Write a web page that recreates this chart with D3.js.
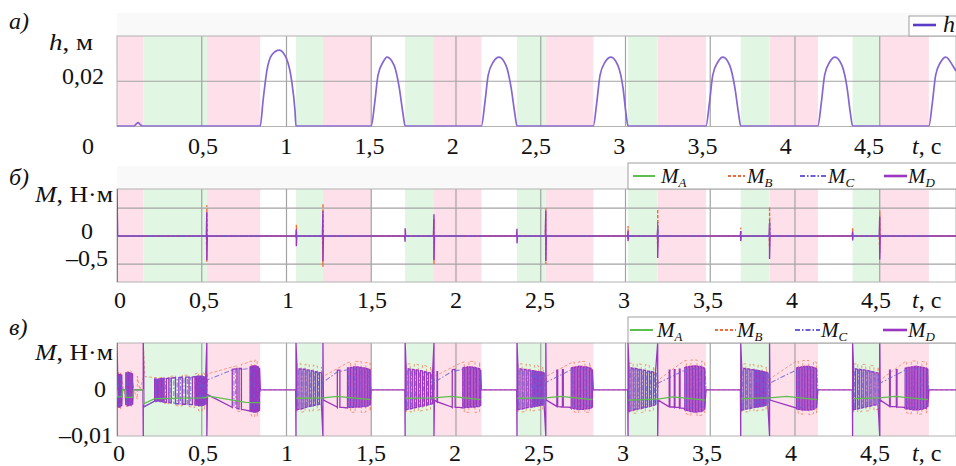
<!DOCTYPE html>
<html>
<head>
<meta charset="utf-8">
<script src="https://cdn.jsdelivr.net/npm/d3@7"></script>
<style>
  body { margin: 0; background: #fff; }
  svg text { font-family: "Liberation Serif", "Times New Roman", serif; fill: #111; }
</style>
</head>
<body>
<div id="chart"></div>
<script>
// phase bands (time, s)
const pinkPhases = [[0, 0.155], [0.53, 0.845], [1.215, 1.50], [1.87, 2.15], [2.53, 2.81], [3.19, 3.475], [3.85, 4.135], [4.50, 4.79]];
const greenPhases = [[0.155, 0.53], [1.056, 1.215], [1.70, 1.87], [2.36, 2.53], [3.015, 3.19], [3.68, 3.85], [4.34, 4.50]];

const gridTimes = [0.5, 1, 1.5, 2, 2.5, 3, 3.5, 4, 4.5];
const tickTimes = [0, 0.5, 1, 1.5, 2, 2.5, 3, 3.5, 4, 4.5];
const tickLabels = ["0", "0,5", "1", "1,5", "2", "2,5", "3", "3,5", "4", "4,5"];

// a) h, m
const hPoints = [
  [0, 0.0002], [0.10, 0.0002], [0.112, 0.0010], [0.125, 0.0017], [0.137, 0.0009], [0.15, 0.0002],
  [0.845, 0.0002], [0.862, 0.0116], [0.885, 0.025], [0.913, 0.0316], [0.957, 0.0338], [1.0, 0.030], [1.03, 0.0204], [1.05, 0.0071], [1.056, 0.0002],
  [1.50, 0.0002], [1.52, 0.0102], [1.54, 0.0227], [1.57, 0.0285], [1.593, 0.0307], [1.635, 0.027], [1.665, 0.0173], [1.687, 0.0058], [1.70, 0.0002],
  [2.15, 0.0002], [2.17, 0.0102], [2.19, 0.0227], [2.22, 0.0285], [2.254, 0.0307], [2.295, 0.027], [2.325, 0.0173], [2.347, 0.0058], [2.36, 0.0002],
  [2.81, 0.0002], [2.83, 0.0102], [2.85, 0.0227], [2.88, 0.0285], [2.914, 0.0307], [2.955, 0.027], [2.985, 0.0173], [3.003, 0.0058], [3.015, 0.0002],
  [3.475, 0.0002], [3.495, 0.0102], [3.515, 0.0227], [3.545, 0.0285], [3.575, 0.0307], [3.615, 0.027], [3.645, 0.0173], [3.667, 0.0058], [3.68, 0.0002],
  [4.135, 0.0002], [4.155, 0.0102], [4.175, 0.0227], [4.205, 0.0285], [4.236, 0.0307], [4.277, 0.027], [4.307, 0.0173], [4.327, 0.0058], [4.34, 0.0002],
  [4.79, 0.0002], [4.81, 0.0102], [4.83, 0.0227], [4.86, 0.0285], [4.89, 0.0307], [4.93, 0.027], [4.95, 0.0245]
];

// б) moments, N·m   ([t, v] point or [t, hi, lo] stick, null = gap)
const bMA = [[0, 0], [4.95, 0]];
const bMB = [[0, 0], [0.527, 0], [0.53, 0.55, -0.46], [0.533, 0], [1.055, 0], [1.058, 0.2, -0.05], [1.061, 0],
  [1.212, 0], [1.215, 0.58, -0.55], [1.218, 0], [1.867, 0], [1.87, 0.3, -0.5], [1.873, 0], [2.527, 0], [2.53, 0.5, -0.5], [2.533, 0],
  [3.012, 0], [3.015, 0.18, -0.05], [3.018, 0], [3.187, 0], [3.19, 0.48, -0.2], [3.193, 0], [3.677, 0], [3.68, 0.15, 0], [3.683, 0],
  [3.847, 0], [3.85, 0.52, -0.2], [3.853, 0], [4.337, 0], [4.34, 0.15, 0], [4.343, 0], [4.497, 0], [4.5, 0.45, -0.3], [4.503, 0], [4.95, 0]];
const bMC = [[0, 0], [0.845, 0], null, [1.056, 0], [1.50, 0], null, [1.70, 0], [2.15, 0], null, [2.36, 0], [2.81, 0], null,
  [3.015, 0], [3.187, 0], [3.19, 0.25, -0.05], [3.193, 0], [3.475, 0], null, [3.68, 0], [3.847, 0], [3.85, 0.3, -0.05], [3.853, 0], [4.135, 0], null,
  [4.34, 0], [4.79, 0]];
const bMD = [[0, 0.84, -0.82], [0.004, 0], [0.527, 0], [0.530, 0.43, -0.43], [0.533, 0],
  [1.055, 0], [1.058, 0.12, -0.18], [1.061, 0], [1.212, 0], [1.215, 0.45, -0.45], [1.218, 0],
  [1.697, 0], [1.700, 0.14, -0.10], [1.703, 0], [1.867, 0], [1.870, 0.39, -0.43], [1.873, 0],
  [2.357, 0], [2.360, 0.13, -0.13], [2.363, 0], [2.527, 0], [2.530, 0.45, -0.45], [2.533, 0],
  [3.012, 0], [3.015, 0.09, -0.09], [3.018, 0], [3.187, 0], [3.190, 0.14, -0.39], [3.193, 0],
  [3.677, 0], [3.680, 0.09, -0.09], [3.683, 0], [3.847, 0], [3.850, 0.23, -0.41], [3.853, 0],
  [4.337, 0], [4.340, 0.08, -0.08], [4.343, 0], [4.497, 0], [4.500, 0.35, -0.42], [4.503, 0], [4.95, 0]];

// в) moments, N·m
const vMA = [[0, 0], [0.002, -0.0015], [0.03, -0.0015], [0.032, 0], [0.05, 0], [0.052, -0.0016], [0.095, -0.0016], [0.097, 0], [0.155, 0],
  [0.158, -0.003], [0.222, -0.0019], [0.50, -0.0017], [0.53, -0.0016], [0.534, -0.0013], [0.76, -0.0027], [0.845, -0.0028], null,
  [1.058, -0.0018], [1.215, -0.0017], [1.30, -0.0014], [1.495, -0.0021], null,
  [1.702, -0.0018], [1.87, -0.0017], [1.97, -0.0014], [2.145, -0.0021], null,
  [2.362, -0.0018], [2.53, -0.0017], [2.62, -0.0014], [2.805, -0.0021], null,
  [3.017, -0.0022], [3.19, -0.0020], [3.28, -0.0015], [3.47, -0.0022], null,
  [3.682, -0.0019], [3.85, -0.0017], [3.95, -0.0014], [4.13, -0.0021], null,
  [4.342, -0.0019], [4.50, -0.0017], [4.59, -0.0014], [4.785, -0.0021]];

const vMB = [[0, 0], [0.010, 0.0038, -0.004], [0.022, 0.0037, -0.0041], [0.04, 0], [0.060, 0.004, -0.0037], [0.084, 0.0041, -0.0036], [0.10, 0],
  [0.12, 0.003, -0.002], [0.135, 0], [0.155, 0.0102, 0.0028], [0.165, 0.0029], [0.25, 0.0026],
  [0.278, 0.0028, -0.0029], [0.306, 0.0029, -0.003], [0.345, 0.0031, -0.0034], [0.385, 0.0032, -0.0035], [0.425, 0.0032, -0.0036], [0.460, 0.0035, -0.0038],
  [0.481, 0.0037, -0.0045], [0.502, 0.0038, -0.0046], [0.516, 0.0036, -0.0042], [0.53, 0], [0.535, 0.0035], [0.70, 0.0052],
  [0.708, 0.0054, -0.0046], [0.734, 0.0056, -0.0047], [0.76, 0.0058], [0.792, 0.0063, -0.0056], [0.813, 0.0065, -0.0058], [0.827, 0.0064, -0.0057], [0.845, 0], [1.056, 0],
  [1.062, 0.0056, -0.0048], [1.086, 0.0057, -0.0048], [1.110, 0.0056, -0.0047], [1.134, 0.0055, -0.0046], [1.158, 0.0054, -0.0045], [1.182, 0.0052, -0.0044], [1.206, 0.0050, -0.0042],
  [1.215, 0], [1.22, 0.0030], [1.36, 0.0059], [1.378, 0.0061, -0.0048], [1.405, 0.0062, -0.0049], [1.441, 0.0062, -0.0049], [1.468, 0.006, -0.0048], [1.494, 0.0058, -0.0046], [1.50, 0], [1.70, 0],
  [1.706, 0.0056, -0.0048], [1.730, 0.0057, -0.0048], [1.754, 0.0056, -0.0047], [1.778, 0.0055, -0.0046], [1.802, 0.0054, -0.0045], [1.826, 0.0052, -0.0044], [1.850, 0.0050, -0.0042],
  [1.87, 0], [1.875, 0.0030], [2.03, 0.0059], [2.049, 0.0061, -0.0048], [2.076, 0.0062, -0.0049], [2.112, 0.0062, -0.0049], [2.139, 0.006, -0.0047], [2.15, 0], [2.36, 0],
  [2.366, 0.0056, -0.0048], [2.390, 0.0057, -0.0048], [2.414, 0.0056, -0.0047], [2.438, 0.0055, -0.0046], [2.464, 0.0054, -0.0045], [2.488, 0.0052, -0.0044], [2.512, 0.0050, -0.0042],
  [2.53, 0], [2.535, 0.003], [2.68, 0.0059], [2.698, 0.0061, -0.0048], [2.725, 0.0062, -0.0049], [2.761, 0.0062, -0.0049], [2.788, 0.006, -0.0048], [2.81, 0], [3.015, 0],
  [3.021, 0.0058, -0.0052], [3.045, 0.0058, -0.0051], [3.069, 0.0057, -0.005], [3.093, 0.0056, -0.0049], [3.117, 0.0055, -0.0047], [3.141, 0.0053, -0.0046], [3.165, 0.0051, -0.0044],
  [3.19, 0], [3.195, 0.0022], [3.345, 0.0063], [3.359, 0.0064, -0.0052], [3.386, 0.0065, -0.0055], [3.422, 0.0065, -0.0056], [3.449, 0.0063, -0.0055], [3.467, 0.006, -0.005], [3.475, 0], [3.68, 0],
  [3.686, 0.0056, -0.0048], [3.710, 0.0057, -0.0048], [3.734, 0.0056, -0.0047], [3.758, 0.0055, -0.0046], [3.782, 0.0054, -0.0045], [3.806, 0.0052, -0.0044], [3.830, 0.0050, -0.0042],
  [3.85, 0], [3.855, 0.0025], [4.005, 0.0062], [4.019, 0.0063, -0.005], [4.046, 0.0064, -0.0053], [4.082, 0.0064, -0.0054], [4.109, 0.0062, -0.0052], [4.127, 0.006, -0.005], [4.135, 0], [4.34, 0],
  [4.346, 0.0056, -0.0048], [4.370, 0.0057, -0.0048], [4.394, 0.0056, -0.0047], [4.418, 0.0055, -0.0046], [4.442, 0.0054, -0.0045], [4.466, 0.0052, -0.0044], [4.490, 0.0050, -0.0042],
  [4.50, 0], [4.505, 0.0022], [4.645, 0.006], [4.659, 0.0062, -0.005], [4.686, 0.0063, -0.0052], [4.722, 0.0063, -0.0053], [4.749, 0.0062, -0.0052], [4.776, 0.006, -0.005], [4.79, 0], [4.95, 0]];

const vMC = [[0, 0], [0.007, 0.003, -0.0032], [0.019, 0.003, -0.0033], [0.031, 0], null, [0.05, 0], [0.055, 0.0033, -0.003], [0.071, 0.0034, -0.003], [0.087, 0.0033, -0.003], [0.099, 0], null,
  [0.158, -0.0037], [0.222, -0.0024], [0.234, 0.0023, -0.0024], [0.25, 0.0023, -0.0024], [0.266, 0.0024, -0.0025], [0.285, 0.0024, -0.0026], [0.313, 0.0025, -0.0027],
  [0.335, 0.0026, -0.0029], [0.355, 0.0026, -0.0029], [0.375, 0.0027, -0.003], [0.395, 0.0027, -0.003], [0.415, 0.0027, -0.0031], [0.435, 0.0027, -0.0031],
  [0.463, 0.0028, -0.0032], [0.478, 0.0029, -0.0032], [0.491, 0.0029, -0.0033], [0.505, 0.0029, -0.0033], [0.519, 0.0027, -0.0031], [0.53, 0],
  [0.534, 0.0022], [0.676, 0.0043], [0.69, 0.0044, -0.0038], [0.70, 0.0044, -0.0038], [0.745, 0.0045], [0.79, 0.0047, -0.004], [0.81, 0.0048, -0.0042], [0.83, 0.0047, -0.0041], [0.846, 0], null,
  [1.056, 0], [1.068, 0.0044, -0.0041], [1.092, 0.0043, -0.004], [1.116, 0.0042, -0.0038], [1.14, 0.0041, -0.0036], [1.164, 0.0039, -0.0034], [1.188, 0.0037, -0.0032], [1.208, 0.0035, -0.003],
  [1.215, 0], [1.218, 0.0017], [1.298, 0.0039], [1.36, 0.0044], [1.365, 0.0045, -0.0036], [1.40, 0.0046, -0.0036], [1.44, 0.0046, -0.0035], [1.48, 0.0044, -0.0034], [1.50, 0], null,
  [1.70, 0], [1.712, 0.0044, -0.0041], [1.736, 0.0043, -0.004], [1.76, 0.0042, -0.0038], [1.784, 0.0041, -0.0036], [1.808, 0.0039, -0.0034], [1.832, 0.0037, -0.0032], [1.856, 0.0035, -0.003],
  [1.87, 0], [1.873, 0.0017], [1.975, 0.0040], [2.035, 0.0044], [2.045, 0.0045, -0.0036], [2.08, 0.0046, -0.0036], [2.115, 0.0045, -0.0035], [2.14, 0.0043, -0.0034], [2.15, 0], null,
  [2.36, 0], [2.372, 0.0044, -0.0041], [2.396, 0.0043, -0.004], [2.42, 0.0042, -0.0038], [2.444, 0.0041, -0.0037], [2.452, 0.004, -0.0036], [2.46, 0.004, -0.0036], [2.468, 0.0039, -0.0035],
  [2.476, 0.0039, -0.0035], [2.484, 0.0038, -0.0034], [2.492, 0.0038, -0.0034], [2.50, 0.0037, -0.0033], [2.508, 0.0037, -0.0033], [2.516, 0.0036, -0.0032], [2.524, 0.0035, -0.0031],
  [2.53, 0], [2.533, 0.0017], [2.675, 0.0043], [2.69, 0.0045, -0.0036], [2.73, 0.0046, -0.0036], [2.77, 0.0045, -0.0035], [2.80, 0.0043, -0.0034], [2.81, 0], null,
  [3.015, 0], [3.027, 0.0046, -0.0044], [3.051, 0.0045, -0.0042], [3.075, 0.0044, -0.004], [3.099, 0.0043, -0.0038], [3.123, 0.0041, -0.0036], [3.147, 0.0039, -0.0034], [3.171, 0.0037, -0.0032], [3.185, 0.0036, -0.0031],
  [3.19, 0], [3.193, 0.0015], [3.345, 0.0042], [3.36, 0.0045, -0.0038], [3.40, 0.0046, -0.0039], [3.44, 0.0046, -0.0038], [3.47, 0.0044, -0.0036], [3.475, 0], null,
  [3.68, 0], [3.692, 0.0045, -0.0042], [3.716, 0.0044, -0.004], [3.74, 0.0043, -0.0039], [3.762, 0.0042, -0.0037], [3.77, 0.0041, -0.0037], [3.778, 0.0041, -0.0036], [3.786, 0.004, -0.0036],
  [3.794, 0.004, -0.0035], [3.802, 0.0039, -0.0035], [3.81, 0.0039, -0.0034], [3.818, 0.0038, -0.0034], [3.826, 0.0037, -0.0033], [3.834, 0.0036, -0.0032], [3.845, 0.0035, -0.0031],
  [3.85, 0], [3.853, 0.0015], [4.005, 0.0043], [4.02, 0.0045, -0.0038], [4.06, 0.0046, -0.0039], [4.10, 0.0046, -0.0038], [4.13, 0.0044, -0.0036], [4.135, 0], null,
  [4.34, 0], [4.352, 0.0045, -0.0042], [4.376, 0.0044, -0.004], [4.40, 0.0043, -0.0038], [4.424, 0.0041, -0.0036], [4.448, 0.004, -0.0035], [4.472, 0.0038, -0.0033], [4.492, 0.0036, -0.0031],
  [4.50, 0], [4.503, 0.0015], [4.645, 0.0042], [4.66, 0.0045, -0.0038], [4.70, 0.0046, -0.0039], [4.74, 0.0046, -0.0038], [4.78, 0.0044, -0.0036], [4.79, 0]];

const vMD = [[0, 0.0102, -0.01],
  [0.004, 0.0033, -0.0036], [0.010, 0.0034, -0.0037], [0.016, 0.0033, -0.0037], [0.022, 0.0033, -0.0036], [0.028, 0.0032, -0.0035], [0.032, 0], [0.048, 0],
  [0.052, 0.0037, -0.0033], [0.060, 0.0037, -0.0034], [0.068, 0.0038, -0.0034], [0.076, 0.0037, -0.0033], [0.084, 0.0036, -0.0033], [0.092, 0.0035, -0.0032], [0.097, 0], [0.153, 0],
  [0.155, 0.0102, -0.01], [0.158, 0.0037, -0.0037], [0.222, 0.0024, -0.0024],
  [0.230, 0.0024, -0.0025], [0.238, 0.0023, -0.0024], [0.246, 0.0024, -0.0024], [0.254, 0.0024, -0.0025], [0.262, 0.0025, -0.0025], [0.270, 0.0025, -0.0026], [0.278, 0.0025, -0.0026],
  [0.292, 0.0025, -0.0027], [0.306, 0.0026, -0.0027], [0.320, 0.0026, -0.0028], [0.345, 0.0027, -0.0030], [0.365, 0.0027, -0.0030], [0.385, 0.0028, -0.0031], [0.405, 0.0028, -0.0031],
  [0.425, 0.0028, -0.0032], [0.445, 0.0028, -0.0032], [0.460, 0.0029, -0.0033], [0.467, 0.0029, -0.0033], [0.474, 0.0030, -0.0033], [0.481, 0.0030, -0.0034], [0.488, 0.0030, -0.0034],
  [0.495, 0.0030, -0.0034], [0.502, 0.0030, -0.0034], [0.509, 0.0029, -0.0033], [0.516, 0.0028, -0.0032], [0.523, 0.0026, -0.0030],
  [0.530, 0.0102, -0.01], [0.534, -0.0010], [0.676, -0.0037], [0.680, 0.0045, -0.0038], [0.708, 0.0046, -0.0040], [0.720, 0.0047, -0.0041], [0.734, 0.0047, -0.0042], [0.760, -0.0044],
  [0.785, 0.0050, -0.0046], [0.792, 0.0051, -0.0047], [0.799, 0.0052, -0.0047], [0.806, 0.0052, -0.0048], [0.813, 0.0052, -0.0048], [0.820, 0.0052, -0.0048], [0.827, 0.0051, -0.0047],
  [0.834, 0.0050, -0.0046], [0.841, 0.0048, -0.0044], [0.846, 0], [1.054, 0],
  [1.056, 0.0102, -0.01], [1.062, 0.0046, -0.0043], [1.074, 0.0046, -0.0042], [1.086, 0.0046, -0.0041], [1.098, 0.0045, -0.0040], [1.110, 0.0045, -0.0038], [1.122, 0.0044, -0.0037],
  [1.134, 0.0043, -0.0036], [1.146, 0.0042, -0.0035], [1.158, 0.0041, -0.0034], [1.170, 0.0040, -0.0033], [1.182, 0.0039, -0.0032], [1.194, 0.0038, -0.0031], [1.206, 0.0037, -0.0030],
  [1.215, 0.0102, -0.01], [1.218, -0.0022], [1.298, -0.0037], [1.300, 0.0043, -0.0038], [1.315, 0.0043, -0.0038], [1.330, -0.0038],
  [1.360, 0.0048, -0.0039], [1.369, 0.0048, -0.0038], [1.378, 0.0049, -0.0038], [1.387, 0.0049, -0.0038], [1.396, 0.0050, -0.0038], [1.405, 0.0050, -0.0037], [1.414, 0.0050, -0.0037],
  [1.423, 0.0050, -0.0037], [1.432, 0.0049, -0.0037], [1.441, 0.0049, -0.0037], [1.450, 0.0048, -0.0036], [1.459, 0.0048, -0.0036], [1.468, 0.0047, -0.0036], [1.477, 0.0046, -0.0035],
  [1.486, 0.0045, -0.0034], [1.494, 0.0043, -0.0033], [1.498, 0], [1.698, 0],
  [1.700, 0.0102, -0.01], [1.706, 0.0046, -0.0043], [1.718, 0.0046, -0.0042], [1.730, 0.0045, -0.0041], [1.742, 0.0045, -0.0040], [1.754, 0.0044, -0.0039], [1.766, 0.0044, -0.0038],
  [1.778, 0.0043, -0.0037], [1.790, 0.0042, -0.0036], [1.802, 0.0041, -0.0035], [1.814, 0.0040, -0.0034], [1.826, 0.0039, -0.0033], [1.838, 0.0038, -0.0032], [1.850, 0.0037, -0.0031], [1.862, 0.0036, -0.0030],
  [1.870, 0.0102, -0.01], [1.873, -0.0022], [1.885, -0.0025], [1.888, 0.0040, -0.0026], [1.891, 0.0040, -0.0026], [1.975, -0.0037], [1.978, 0.0044, -0.0038], [1.995, 0.0045, -0.0038], [2.020, -0.0038],
  [2.040, 0.0048, -0.0039], [2.049, 0.0049, -0.0039], [2.058, 0.0049, -0.0038], [2.067, 0.0050, -0.0038], [2.076, 0.0050, -0.0038], [2.085, 0.0050, -0.0037], [2.094, 0.0050, -0.0037],
  [2.103, 0.0049, -0.0037], [2.112, 0.0049, -0.0037], [2.121, 0.0048, -0.0036], [2.130, 0.0047, -0.0036], [2.139, 0.0046, -0.0035], [2.146, 0.0044, -0.0033], [2.150, 0], [2.358, 0],
  [2.360, 0.0102, -0.01], [2.366, 0.0046, -0.0043], [2.378, 0.0046, -0.0042], [2.390, 0.0045, -0.0041], [2.402, 0.0045, -0.0040], [2.414, 0.0044, -0.0039], [2.426, 0.0044, -0.0038], [2.438, 0.0043, -0.0037],
  [2.448, 0.0042, -0.0037], [2.456, 0.0042, -0.0036], [2.464, 0.0041, -0.0036], [2.472, 0.0041, -0.0035], [2.480, 0.0040, -0.0035], [2.488, 0.0040, -0.0034], [2.496, 0.0039, -0.0034],
  [2.504, 0.0039, -0.0033], [2.512, 0.0038, -0.0033], [2.520, 0.0037, -0.0032],
  [2.530, 0.0102, -0.01], [2.533, -0.0022], [2.592, -0.0035], [2.595, 0.0043, -0.0036], [2.600, 0.0043, -0.0036], [2.625, -0.0037], [2.628, 0.0044, -0.0037], [2.633, 0.0044, -0.0037], [2.675, -0.0038],
  [2.680, 0.0048, -0.0040], [2.689, 0.0049, -0.0040], [2.698, 0.0049, -0.0041], [2.707, 0.0050, -0.0041], [2.716, 0.0050, -0.0042], [2.725, 0.0051, -0.0042], [2.734, 0.0051, -0.0042],
  [2.743, 0.0051, -0.0042], [2.752, 0.0050, -0.0042], [2.761, 0.0050, -0.0041], [2.770, 0.0050, -0.0041], [2.779, 0.0049, -0.0041], [2.788, 0.0048, -0.0040], [2.797, 0.0047, -0.0039],
  [2.805, 0.0045, -0.0037], [2.810, 0], [3.013, 0],
  [3.015, 0.0102, -0.01], [3.021, 0.0048, -0.0046], [3.033, 0.0048, -0.0045], [3.045, 0.0047, -0.0044], [3.057, 0.0047, -0.0043], [3.069, 0.0046, -0.0042], [3.081, 0.0045, -0.0041],
  [3.093, 0.0044, -0.0040], [3.105, 0.0043, -0.0039], [3.117, 0.0042, -0.0038], [3.129, 0.0041, -0.0037], [3.141, 0.0040, -0.0036], [3.153, 0.0040, -0.0035], [3.165, 0.0039, -0.0034], [3.177, 0.0038, -0.0032],
  [3.190, 0.0102, -0.01], [3.193, -0.0022], [3.255, -0.0036], [3.258, 0.0043, -0.0036], [3.262, 0.0043, -0.0037], [3.285, -0.0037], [3.288, 0.0044, -0.0038], [3.292, 0.0044, -0.0038],
  [3.315, -0.0038], [3.318, 0.0045, -0.0039], [3.322, 0.0045, -0.0039], [3.345, -0.0040],
  [3.350, 0.0049, -0.0043], [3.359, 0.0050, -0.0044], [3.368, 0.0050, -0.0045], [3.377, 0.0051, -0.0046], [3.386, 0.0051, -0.0047], [3.395, 0.0052, -0.0047], [3.404, 0.0052, -0.0048],
  [3.413, 0.0052, -0.0048], [3.422, 0.0052, -0.0048], [3.431, 0.0051, -0.0047], [3.440, 0.0051, -0.0047], [3.449, 0.0050, -0.0046], [3.458, 0.0049, -0.0045], [3.467, 0.0047, -0.0043],
  [3.475, 0], [3.678, 0],
  [3.680, 0.0102, -0.01], [3.686, 0.0047, -0.0044], [3.698, 0.0047, -0.0043], [3.710, 0.0046, -0.0042], [3.722, 0.0046, -0.0041], [3.734, 0.0045, -0.0040], [3.746, 0.0044, -0.0039],
  [3.758, 0.0044, -0.0038], [3.766, 0.0043, -0.0038], [3.774, 0.0043, -0.0037], [3.782, 0.0042, -0.0037], [3.790, 0.0042, -0.0036], [3.798, 0.0041, -0.0036], [3.806, 0.0041, -0.0035],
  [3.814, 0.0040, -0.0035], [3.822, 0.0039, -0.0034], [3.830, 0.0038, -0.0033], [3.840, 0.0037, -0.0032],
  [3.850, 0.0102, -0.01], [3.853, -0.0022], [4.005, -0.0039],
  [4.010, 0.0048, -0.0041], [4.019, 0.0049, -0.0042], [4.028, 0.0049, -0.0042], [4.037, 0.0050, -0.0043], [4.046, 0.0050, -0.0043], [4.055, 0.0051, -0.0044], [4.064, 0.0051, -0.0044],
  [4.073, 0.0051, -0.0044], [4.082, 0.0051, -0.0044], [4.091, 0.0050, -0.0043], [4.100, 0.0050, -0.0043], [4.109, 0.0049, -0.0042], [4.118, 0.0048, -0.0041], [4.127, 0.0046, -0.0039],
  [4.135, 0], [4.338, 0],
  [4.340, 0.0102, -0.01], [4.346, 0.0046, -0.0043], [4.358, 0.0046, -0.0042], [4.370, 0.0045, -0.0041], [4.382, 0.0045, -0.0040], [4.394, 0.0044, -0.0039], [4.406, 0.0044, -0.0038],
  [4.418, 0.0043, -0.0037], [4.430, 0.0042, -0.0036], [4.442, 0.0041, -0.0035], [4.454, 0.0040, -0.0034], [4.466, 0.0039, -0.0033], [4.478, 0.0038, -0.0032], [4.490, 0.0037, -0.0031],
  [4.500, 0.0102, -0.01], [4.503, -0.0022], [4.555, -0.0035], [4.558, 0.0043, -0.0036], [4.562, 0.0043, -0.0036], [4.595, -0.0036], [4.598, 0.0044, -0.0037], [4.602, 0.0044, -0.0037], [4.645, -0.0038],
  [4.650, 0.0047, -0.0040], [4.659, 0.0048, -0.0041], [4.668, 0.0049, -0.0041], [4.677, 0.0049, -0.0042], [4.686, 0.0050, -0.0042], [4.695, 0.0050, -0.0043], [4.704, 0.0051, -0.0043],
  [4.713, 0.0051, -0.0043], [4.722, 0.0051, -0.0043], [4.731, 0.0050, -0.0043], [4.740, 0.0050, -0.0042], [4.749, 0.0049, -0.0042], [4.758, 0.0049, -0.0041], [4.767, 0.0048, -0.0040],
  [4.776, 0.0047, -0.0039], [4.784, 0.0045, -0.0037], [4.790, 0], [4.95, 0]];

// series styles, legend order A B C D
const seriesNames = ["A", "B", "C", "D"];
const seriesColors = ["#5dbf4d", "#f2693a", "#6c5fd4", "#9a36c0"];
const seriesDash = [null, "3,2", "5,2,1.5,2", null];

const W = 956, H = 466;
const x = d3.scaleLinear().domain([0, 4.95]).range([117, 956]);

const svg = d3.select("#chart").append("svg")
  .attr("width", W)
  .attr("height", H);

// turns [t,v] / [t,hi,lo] rows into a polyline, sticks drawn nearest end first
function stickPoints(rows) {
  const pts = [];
  let last = 0;
  rows.forEach(r => {
    if (r === null) { pts.push(null); last = 0; return; }
    if (r.length === 2) { pts.push(r); last = r[1]; return; }
    const [t, hi, lo] = r;
    const order = Math.abs(last - hi) <= Math.abs(last - lo) ? [hi, lo] : [lo, hi];
    pts.push([t, order[0]], [t, order[1]]);
    last = order[1];
  });
  return pts;
}

function plotFrame(id, y, hGrid) {
  const top = y.range()[1], bottom = y.range()[0];
  const g = svg.append("g");

  g.selectAll(".pink").data(pinkPhases).enter().append("rect")
    .attr("x", d => x(d[0])).attr("width", d => x(d[1]) - x(d[0]))
    .attr("y", top).attr("height", bottom - top)
    .attr("fill", "#fde0ea");
  g.selectAll(".green").data(greenPhases).enter().append("rect")
    .attr("x", d => x(d[0])).attr("width", d => x(d[1]) - x(d[0]))
    .attr("y", top).attr("height", bottom - top)
    .attr("fill", "#e1f6e3");

  g.selectAll(".vgrid").data(gridTimes).enter().append("line")
    .attr("x1", d => x(d)).attr("x2", d => x(d))
    .attr("y1", top).attr("y2", bottom)
    .attr("stroke", "#a3a3a3").attr("stroke-width", 1.2);
  g.selectAll(".hgrid").data(hGrid).enter().append("line")
    .attr("x1", x(0)).attr("x2", x(4.95))
    .attr("y1", d => y(d)).attr("y2", d => y(d))
    .attr("stroke", "#a3a3a3").attr("stroke-width", 1.2);

  g.append("rect")
    .attr("x", x(0)).attr("y", top)
    .attr("width", x(4.95) - x(0)).attr("height", bottom - top)
    .attr("fill", "none").attr("stroke", "#b2b2b2");

  svg.append("clipPath").attr("id", id)
    .append("rect")
    .attr("x", x(0)).attr("y", top)
    .attr("width", x(4.95) - x(0)).attr("height", bottom - top);
  return svg.append("g").attr("clip-path", `url(#${id})`);
}

function drawSeries(layer, y, rows, i, width, opacity) {
  const line = d3.line()
    .defined(d => d !== null)
    .x(d => x(d[0]))
    .y(d => y(d[1]));
  layer.append("path")
    .attr("d", line(stickPoints(rows)))
    .attr("fill", "none")
    .attr("stroke", seriesColors[i])
    .attr("stroke-width", width)
    .attr("stroke-opacity", opacity || 1)
    .attr("stroke-dasharray", seriesDash[i]);
}

function xLabels(scale, times, labels, baseline) {
  svg.append("g").selectAll("text").data(times).enter().append("text")
    .attr("x", d => scale(d)).attr("y", baseline)
    .attr("text-anchor", "middle").attr("font-size", 24)
    .text((d, i) => labels[i]);
  const t = svg.append("text").attr("x", 912).attr("y", baseline).attr("font-size", 24);
  t.append("tspan").attr("font-style", "italic").text("t");
  t.append("tspan").text(", с");
}

function label(str, xPos, yPos, anchor, italic) {
  svg.append("text").attr("x", xPos).attr("y", yPos)
    .attr("text-anchor", anchor || "start").attr("font-size", 24)
    .attr("font-style", italic ? "italic" : null)
    .text(str);
}

function mTitle(yPos) {
  const t = svg.append("text").attr("x", 35).attr("y", yPos).attr("font-size", 24)
    .attr("textLength", 78).attr("lengthAdjust", "spacingAndGlyphs");
  t.append("tspan").attr("font-style", "italic").text("M");
  t.append("tspan").text(", Н·м");
}

function mLegend(boxTop, lineX, textX) {
  svg.append("rect")
    .attr("x", 628).attr("y", boxTop).attr("width", 340).attr("height", 26)
    .attr("fill", "#fff").attr("stroke", "#a0a0a0");
  const cy = boxTop + 13;
  seriesNames.forEach((n, i) => {
    svg.append("line")
      .attr("x1", lineX[i][0]).attr("x2", lineX[i][1])
      .attr("y1", cy).attr("y2", cy)
      .attr("stroke", seriesColors[i])
      .attr("stroke-width", i === 3 ? 2.6 : 2)
      .attr("stroke-dasharray", seriesDash[i]);
    const t = svg.append("text").attr("x", textX[i]).attr("y", cy + 7)
      .attr("font-size", 21).attr("font-style", "italic");
    t.append("tspan").text("M");
    t.append("tspan").attr("font-size", 13).attr("dy", 4).text(n);
  });
}

// ---------- a) h ----------
const yA = d3.scaleLinear().domain([0, 0.04]).range([126.5, 36]);
svg.append("rect").attr("x", 117).attr("y", 13).attr("width", 839).attr("height", 23).attr("fill", "#f9f9f9");
const layerA = plotFrame("clipA", yA, [0.02]);
layerA.append("path")
  .attr("d", d3.line().curve(d3.curveMonotoneX).x(d => x(d[0])).y(d => yA(d[1]))(hPoints))
  .attr("fill", "none").attr("stroke", "#8566d3").attr("stroke-width", 1.7);

svg.append("rect").attr("x", 909).attr("y", 16).attr("width", 60).attr("height", 20)
  .attr("fill", "#fff").attr("stroke", "#a0a0a0");
svg.append("line").attr("x1", 913).attr("x2", 936).attr("y1", 25).attr("y2", 25)
  .attr("stroke", "#5a3cc8").attr("stroke-width", 2.6);
label("h", 943, 32, "start", true);

label("а)", 9, 29, "start", true);
const hTitle = svg.append("text").attr("x", 49).attr("y", 50).attr("font-size", 24)
  .attr("textLength", 44).attr("lengthAdjust", "spacingAndGlyphs");
hTitle.append("tspan").attr("font-style", "italic").text("h");
hTitle.append("tspan").text(", м");
label("0,02", 104, 84, "end");
label("0", 88, 154, "middle");
const labA = d3.scaleLinear().domain([0.5, 4.5]).range([203, 869]);
xLabels(labA, tickTimes.slice(1), tickLabels.slice(1), 154);

// ---------- б) M ----------
const yB = d3.scaleLinear().domain([-0.82, 0.84]).range([282, 189]);
svg.append("rect").attr("x", 117).attr("y", 166).attr("width", 839).attr("height", 23).attr("fill", "#f9f9f9");
const layerB = plotFrame("clipB", yB, [0.5, 0, -0.5]);
drawSeries(layerB, yB, bMA, 0, 1.2);
drawSeries(layerB, yB, bMB, 1, 1.3);
drawSeries(layerB, yB, bMD, 3, 1.4);
drawSeries(layerB, yB, bMC, 2, 1.2);
mLegend(163, [[633, 655], [728, 745], [800, 826], [884, 907]], [661, 747, 828, 908]);

label("б)", 9, 185, "start", true);
mTitle(202);
label("0", 93, 239, "end");
label("–0,5", 108, 266, "end");
const labB = d3.scaleLinear().domain([0, 4.5]).range([120, 876]);
xLabels(labB, tickTimes, tickLabels, 308);

// ---------- в) M ----------
const yC = d3.scaleLinear().domain([-0.01, 0.0102]).range([436, 343]);
const layerC = plotFrame("clipC", yC, []);
drawSeries(layerC, yC, vMB, 1, 1, 0.6);
drawSeries(layerC, yC, vMD, 3, 1.3);
drawSeries(layerC, yC, vMC, 2, 1.1, 0.8);
drawSeries(layerC, yC, vMA, 0, 1.3);
mLegend(317, [[630, 653], [715, 736], [795, 820], [883, 907]], [657, 737, 821, 908]);

label("в)", 9, 335, "start", true);
mTitle(360);
label("0", 106, 397, "end");
label("–0,01", 113, 443, "end");
const labC = d3.scaleLinear().domain([0, 4.5]).range([119, 875]);
xLabels(labC, tickTimes, tickLabels, 461);
</script>
</body>
</html>
